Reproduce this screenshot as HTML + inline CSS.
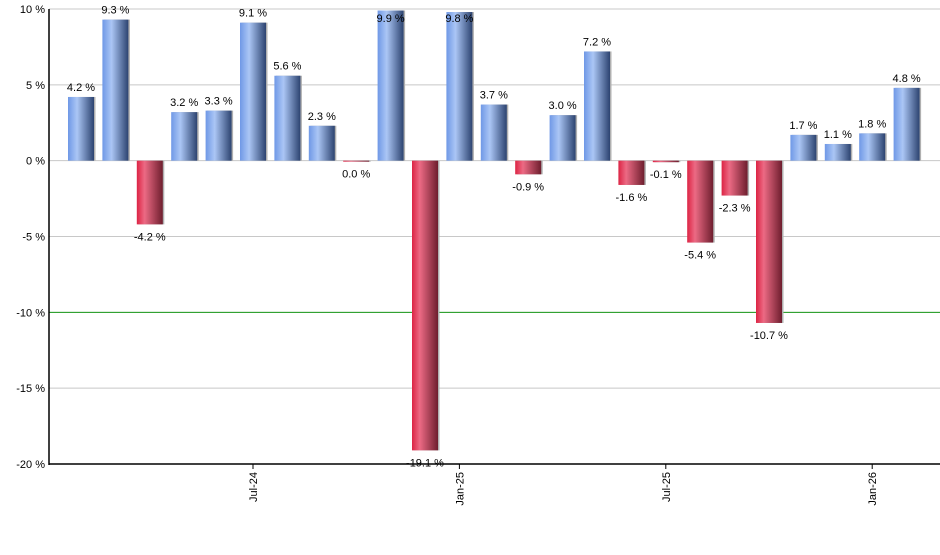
<!DOCTYPE html>
<html><head><meta charset="utf-8"><style>
body{margin:0;background:#fff;}
svg text{font-family:"Liberation Sans",Arial,sans-serif;font-size:11px;fill:#000;}
</style></head><body>
<svg id="chart" width="940" height="550" xmlns="http://www.w3.org/2000/svg">
<defs>
<linearGradient id="gb" x1="0" x2="1" y1="0" y2="0">
<stop offset="0" stop-color="#6f98e6"/><stop offset="0.35" stop-color="#abc6f5"/><stop offset="1" stop-color="#2c4370"/>
</linearGradient>
<linearGradient id="gr" x1="0" x2="1" y1="0" y2="0">
<stop offset="0" stop-color="#dc2444"/><stop offset="0.3" stop-color="#ec6a84"/><stop offset="1" stop-color="#6e1e2e"/>
</linearGradient>
</defs>
<g id="grid"></g><g id="bars"></g><g id="axes"></g>
</svg>
<script>
const months = ["Feb-24","Mar-24","Apr-24","May-24","Jun-24","Jul-24","Aug-24","Sep-24","Oct-24","Nov-24","Dec-24","Jan-25","Feb-25","Mar-25","Apr-25","May-25","Jun-25","Jul-25","Aug-25","Sep-25","Oct-25","Nov-25","Dec-25","Jan-26","Feb-26"];
const values = [4.2,9.3,-4.2,3.2,3.3,9.1,5.6,2.3,-0.04,9.9,-19.1,9.8,3.7,-0.9,3.0,7.2,-1.6,-0.1,-5.4,-2.3,-10.7,1.7,1.1,1.8,4.8];
const yTicks = [10,5,0,-5,-10,-15,-20];
const xTickLabels = ["Jul-24","Jan-25","Jul-25","Jan-26"];
const threshold = -10;

const NS="http://www.w3.org/2000/svg";
const x0=49,x1=940,yTop=9,yBot=464,vMax=10,vMin=-20;
const y=v=>yTop+(vMax-v)/(vMax-vMin)*(yBot-yTop);
const step=34.4, first=81;
const xc=i=>first+i*step;
function mk(t,a,p){const e=document.createElementNS(NS,t);for(const k in a)e.setAttribute(k,a[k]);p.appendChild(e);return e;}
const grid=document.getElementById('grid'),bars=document.getElementById('bars'),axes=document.getElementById('axes');
yTicks.forEach(v=>{
  const l=mk('line',{x1:x0,x2:x1,y1:y(v),y2:y(v),stroke:'#c8c8c8','stroke-width':1},grid);
  
  
  const t=mk('text',{x:45,y:y(v)+4,'text-anchor':'end'},axes);
  t.textContent=v+' %';
  
  
});
const th=mk('line',{x1:x0,x2:x1,y1:y(threshold),y2:y(threshold),stroke:'#1a9a1a','stroke-width':1},grid);


values.forEach((v,i)=>{
  const cx=xc(i),w=26,top=Math.min(y(v),y(0)),h=Math.max(Math.abs(y(v)-y(0)),1);
  mk('rect',{x:cx-w/2+1.5,y:top,width:w,height:h,fill:'#b0b0b0'},bars);
  const r=mk('rect',{x:cx-w/2,y:top,width:w,height:h,fill:v>=0?'url(#gb)':'url(#gr)'},bars);
  
  
  let ly=v>=0?y(v)-6:y(v)+16;
  if(v>=0&&ly<13) ly=22;
  const t=mk('text',{x:cx,y:ly,'text-anchor':'middle'},bars);
  t.textContent=(Math.round(v*10)/10===0?'0.0':v.toFixed(1))+' %';
  
  
});
mk('line',{x1:x0,x2:x0,y1:yTop,y2:yBot+1,stroke:'#000','stroke-width':1.5},axes);
mk('line',{x1:x0,x2:x1,y1:yBot,y2:yBot,stroke:'#000','stroke-width':1.5},axes);
xTickLabels.forEach(lab=>{
  const i=months.indexOf(lab),cx=xc(i);
  mk('line',{x1:cx,x2:cx,y1:yBot,y2:yBot+5,stroke:'#000'},axes);
  const t=mk('text',{x:0,y:0,'text-anchor':'end',transform:`translate(${cx+4},${yBot+8}) rotate(-90)`},axes);
  t.textContent=lab;
  
  
});
</script>
</body></html>
